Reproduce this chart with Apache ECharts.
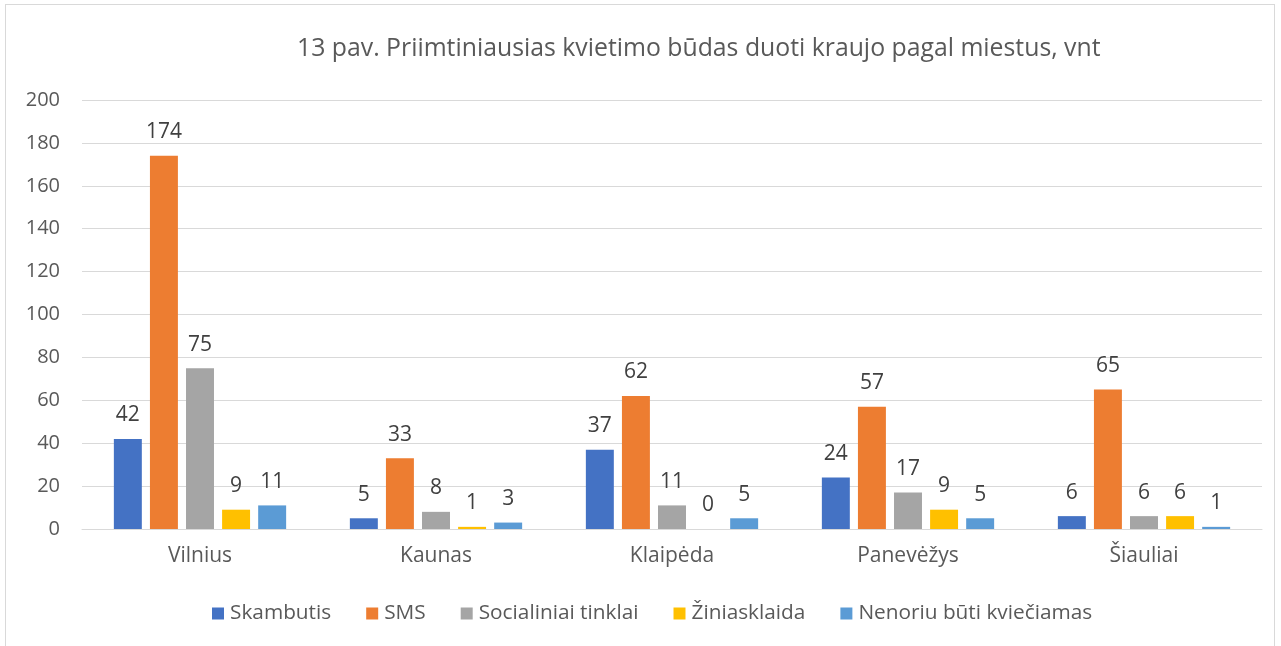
<!DOCTYPE html>
<html>
<head>
<meta charset="utf-8">
<script src="https://cdn.jsdelivr.net/npm/echarts@6/dist/echarts.min.js"></script>
<style>
    html, body { margin: 0; padding: 0; background: #fff; }
    #frame { position: absolute; left: 5px; top: 4px; width: 1270px; height: 660px; border: 1px solid #d9d9d9; box-sizing: border-box; }
    #chart { width: 1281px; height: 646px; }
</style>
</head>
<body>
<div id="frame"></div>
<div id="chart"></div>
<script>
var categories = ['Vilnius', 'Kaunas', 'Klaipėda', 'Panevėžys', 'Šiauliai'];
var seriesNames = ['Skambutis', 'SMS', 'Socialiniai tinklai', 'Žiniasklaida', 'Nenoriu būti kviečiamas'];
var skambutis = [42, 5, 37, 24, 6];
var sms = [174, 33, 62, 57, 65];
var socialiniai = [75, 8, 11, 17, 6];
var ziniasklaida = [9, 1, 0, 9, 6];
var nenoriu = [11, 3, 5, 5, 1];
var colors = ['#4472c4', '#ed7d31', '#a5a5a5', '#ffc000', '#5b9bd5'];

var chart = echarts.init(document.getElementById('chart'));
var values = [skambutis, sms, socialiniai, ziniasklaida, nenoriu];

var series = values.map(function (data, i) {
    return {
        name: seriesNames[i],
        type: 'bar',
        data: data,
        barGap: '29%',
        barCategoryGap: '27%',
        itemStyle: { color: colors[i] },
        label: {
            show: true,
            position: 'top',
            distance: 13,
            color: '#404040',
            fontSize: 21,
            fontFamily: 'Open Sans'
        }
    };
});

chart.setOption({
    animation: false,
    title: {
        text: '13 pav. Priimtiniausias kvietimo būdas duoti kraujo pagal miestus, vnt',
        left: 292,
        top: 31,
        textStyle: { color: '#595959', fontSize: 24.8, fontWeight: 'normal', fontFamily: 'Open Sans' }
    },
    legend: {
        bottom: 17,
        left: 207,
        itemWidth: 12,
        itemHeight: 12,
        itemGap: 35,
        icon: 'rect',
        textStyle: { color: '#595959', fontSize: 20.8, fontFamily: 'Open Sans', padding: [0, 0, 0, 1] },
        data: seriesNames
    },
    grid: { left: 82, right: 19, top: 100, bottom: 117 },
    xAxis: {
        type: 'category',
        data: categories,
        axisLine: { lineStyle: { color: '#d9d9d9' } },
        axisTick: { show: false },
        axisLabel: { color: '#595959', fontSize: 21, margin: 17, fontFamily: 'Open Sans' }
    },
    yAxis: {
        type: 'value',
        min: 0,
        max: 200,
        interval: 20,
        axisLine: { show: false },
        axisTick: { show: false },
        axisLabel: { color: '#595959', fontSize: 20, margin: 22, fontFamily: 'Open Sans' },
        splitLine: { lineStyle: { color: '#d9d9d9' } }
    },
    series: series
});
</script>
</body>
</html>
